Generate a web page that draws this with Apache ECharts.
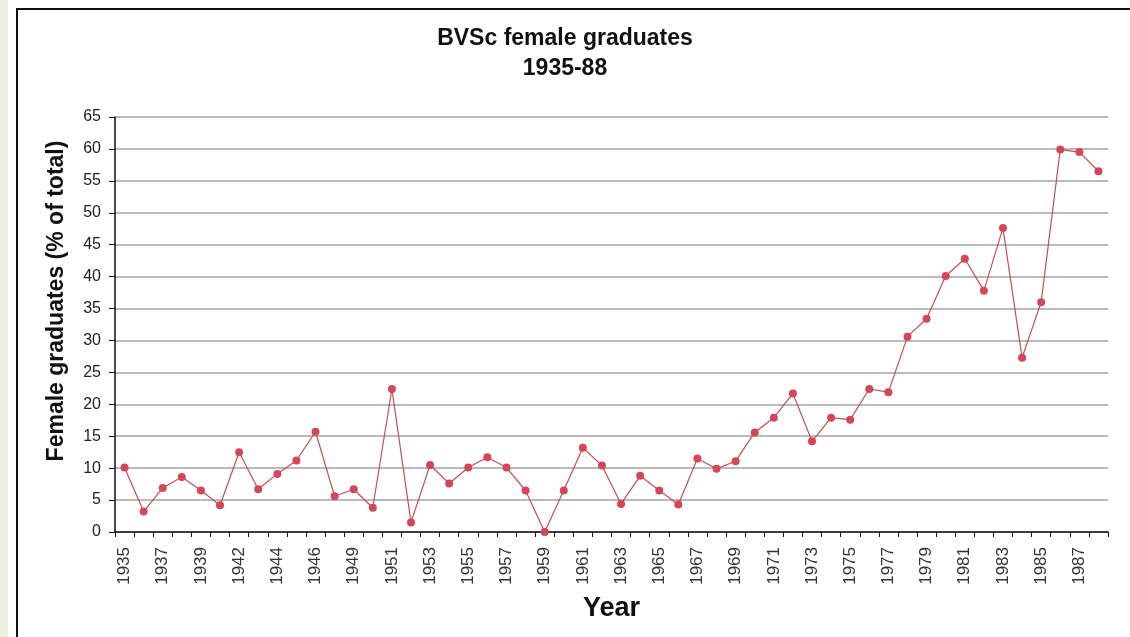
<!DOCTYPE html>
<html>
<head>
<meta charset="utf-8">
<script src="https://cdn.jsdelivr.net/npm/echarts@6/dist/echarts.min.js"></script>
<style>
  html, body { margin: 0; padding: 0; background: #ffffff; }
  #chart { width: 1130px; height: 637px; }
</style>
</head>
<body>
<div id="chart"></div>
<script>
const years = ['1935','1936','1937','1938','1939','1941','1942','1943','1944','1945','1946',
  '1948','1949','1950','1951','1952','1953','1954','1955','1956','1957','1958','1959','1960',
  '1961','1962','1963','1964','1965','1966','1967','1968','1969','1970','1971','1972','1973',
  '1974','1975','1976','1977','1978','1979','1980','1981','1982','1983','1984','1985','1986',
  '1987','1988'];
const femalePct = [10.1,3.2,6.9,8.6,6.5,4.2,12.5,6.7,9.1,11.2,15.7,
  5.6,6.7,3.8,22.4,1.5,10.5,7.6,10.1,11.7,10.1,6.5,0,6.5,
  13.2,10.4,4.4,8.8,6.5,4.3,11.5,9.9,11.1,15.6,17.9,21.7,14.2,
  17.9,17.6,22.4,21.9,30.6,33.4,40.1,42.8,37.8,47.6,27.3,36.0,59.9,
  59.5,56.5];
const titleText = 'BVSc female graduates\n1935-88';
const xName = 'Year';
const yName = 'Female graduates (% of total)';

const FONT = 'Arial, "Liberation Sans", sans-serif';
const chart = echarts.init(document.getElementById('chart'), null, {renderer: 'canvas'});
chart.setOption({
  animation: false,
  backgroundColor: '#ffffff',
  title: {
    text: titleText,
    left: 'center',
    top: 19,
    textStyle: { fontFamily: FONT, fontSize: 23, fontWeight: 'bold', color: '#111', lineHeight: 30 }
  },
  graphic: [
    { type: 'rect', shape: { x: 0, y: 0, width: 8, height: 637 }, style: { fill: '#eef1e0' }, silent: true },
    { type: 'rect', shape: { x: 17, y: 9, width: 1200, height: 700 }, style: { fill: null, stroke: '#111', lineWidth: 2 }, silent: true },
    { type: 'text', x: 57, y: 301, rotation: Math.PI / 2,
      style: { text: yName, fontFamily: FONT, fontSize: 23, fontWeight: 'bold', fill: '#111', align: 'center', verticalAlign: 'middle' } }
  ],
  grid: { left: 115, right: 22, top: 117, bottom: 105, containLabel: false, outerBoundsMode: 'none' },
  xAxis: {
    type: 'category',
    data: years,
    boundaryGap: true,
    name: xName,
    nameLocation: 'middle',
    nameGap: 63,
    nameTextStyle: { fontFamily: FONT, fontSize: 27, fontWeight: 'bold', color: '#111' },
    axisLine: { lineStyle: { color: '#111', width: 1.5 } },
    axisTick: { show: true, interval: 0, length: 5, lineStyle: { color: '#111' } },
    axisLabel: { interval: 1, rotate: 90, margin: 15, fontFamily: FONT, fontSize: 17, color: '#333' },
    splitLine: { show: false }
  },
  yAxis: {
    type: 'value',
    min: 0, max: 65, interval: 5,
    axisLine: { show: true, lineStyle: { color: '#111', width: 1.5 } },
    axisTick: { show: true, length: 6, lineStyle: { color: '#111' } },
    axisLabel: { margin: 14, fontFamily: FONT, fontSize: 16, color: '#222' },
    splitLine: { show: true, lineStyle: { color: '#a3a3a3', width: 1.5 } }
  },
  series: [{
    type: 'line',
    data: femalePct,
    symbol: 'circle',
    symbolSize: 8,
    showSymbol: true,
    lineStyle: { color: '#c24f58', width: 1.2 },
    itemStyle: { color: '#d4475a' }
  }]
});
</script>
</body>
</html>
